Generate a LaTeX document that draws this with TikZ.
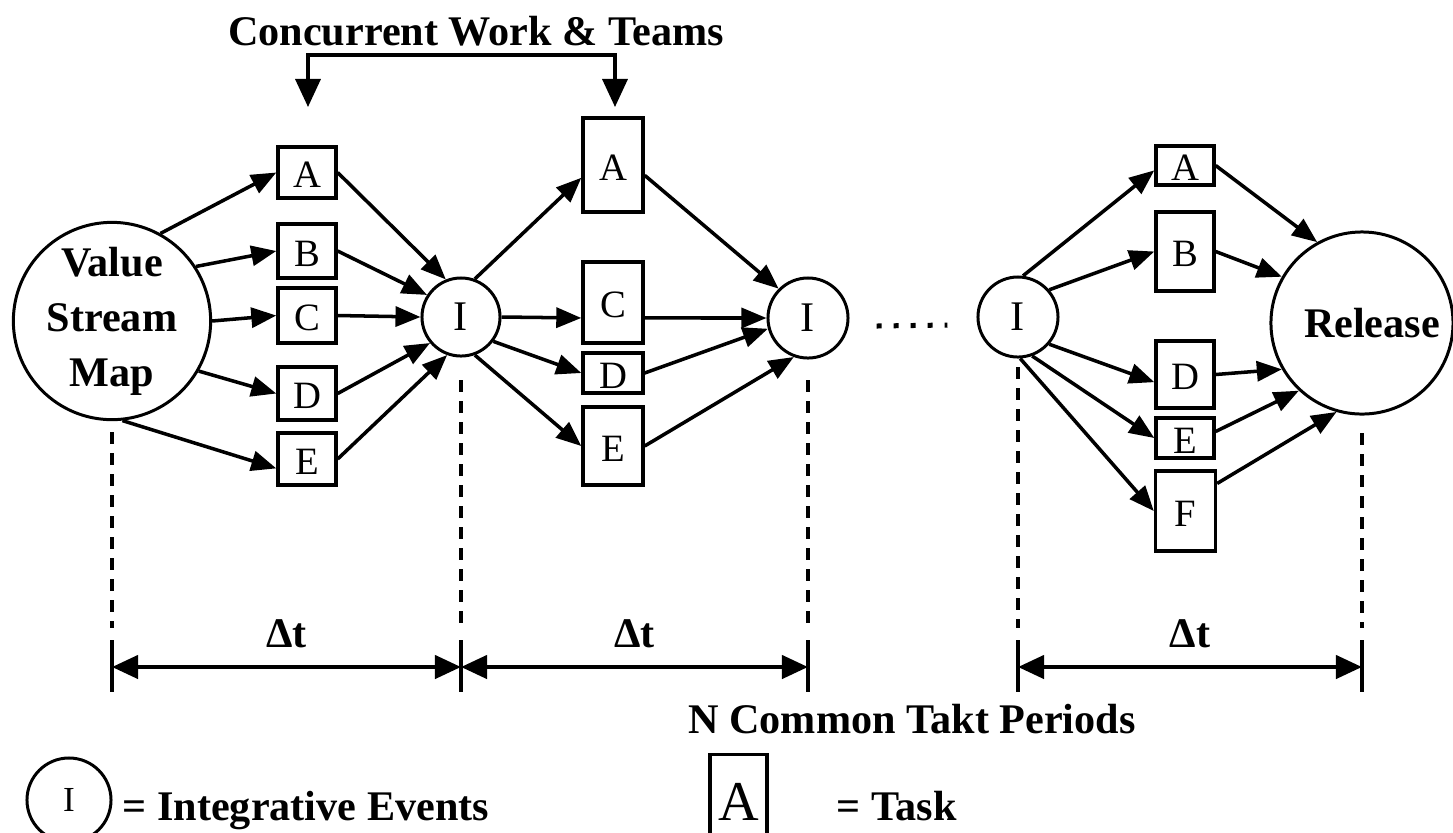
\documentclass[tikz,border=0pt]{standalone}
\usepackage{fontspec}
\setmainfont{Liberation Serif}
\usepackage{tikz}
\usetikzlibrary{arrows.meta,shapes}
\usetikzlibrary{positioning}

\tikzstyle{task}=[draw=black, rectangle, line width=0.95pt, inner sep=0pt,
                minimum width=0.58cm, text height=0.30cm, text depth=0pt,
                font=\fontsize{11}{13}\selectfont]
\tikzstyle{event}=[draw=black, circle, line width=0.85pt, inner sep=0pt,
                minimum size=0.78cm, font=\fontsize{12}{14}\selectfont]
\tikzstyle{blabel}=[inner sep=0pt, font=\bfseries\fontsize{12}{15.6}\selectfont]
\tikzstyle{flow}=[-{Triangle[length=0.25cm,width=0.2cm]}, line width=1pt]
\tikzstyle{bracket}=[-{Triangle[length=0.28cm,width=0.25cm]}, line width=1pt]
\tikzstyle{guide}=[line width=0.9pt, dash pattern=on 0.12cm off 0.09cm]
\tikzstyle{period}=[{Triangle[length=0.26cm,width=0.23cm]}-{Triangle[length=0.26cm,width=0.23cm]},
                line width=1.2pt]

\begin{document}
\begin{tikzpicture}[x=0.01cm, y=-0.01cm]
  \path[use as bounding box] (0,0) rectangle (1453,832);

  % title and bracket
  \node[blabel, anchor=base] (cwt) at (476,45) {Concurrent Work \& Teams};
  \coordinate (cw) at (461,55);
  \coordinate (ca1) at (308,107);
  \coordinate (ca2) at (615,107);
  \draw[bracket] (cw) -| (ca1);
  \draw[bracket] (cw) -| (ca2);

  % first period
  \node[draw, circle, line width=0.85pt, inner sep=0pt, minimum size=1.88cm,
        align=center, blabel] (vsm) at (112,321) {Value\\Stream\\Map};
  \node[task, minimum height=0.51cm] (a1) at (307,172.5) {A};
  \node[task, minimum height=0.54cm] (b1) at (307,251) {B};
  \node[task, minimum height=0.55cm] (c1) at (307,315.5) {C};
  \node[task, minimum height=0.53cm] (d1) at (307,393.5) {D};
  \node[task, minimum height=0.52cm] (e1) at (307,459) {E};
  \node[event] (i1) at (461,317) {I};

  % second period
  \node[task, minimum width=0.6cm, minimum height=0.94cm] (a2) at (613,165) {A};
  \node[task, minimum width=0.6cm, minimum height=0.81cm] (c2) at (613,302.5) {C};
  \node[task, minimum width=0.6cm, minimum height=0.40cm] (d2) at (613,373) {D};
  \node[task, minimum width=0.6cm, minimum height=0.78cm] (e2) at (613,446) {E};
  \node[event, minimum size=0.8cm] (i2) at (808,318) {I};

  % last period
  \node[event, minimum size=0.8cm] (i3) at (1018,317) {I};
  \node[task, minimum height=0.39cm] (a3) at (1185,165.5) {A};
  \node[task, minimum height=0.79cm] (b3) at (1185,251.5) {B};
  \node[task, minimum height=0.67cm] (d3) at (1185,374.5) {D};
  \node[task, minimum height=0.40cm] (e3) at (1185,438) {E};
  \node[task, minimum width=0.6cm, minimum height=0.80cm] (f3) at (1185.5,511) {F};
  \node[draw, circle, line width=0.85pt, inner sep=0pt, minimum size=1.82cm,
        blabel] (rel) at (1362,323) {\hspace{0.2cm}Release};

  \path[flow]
    (vsm.61) edge (a1.west)
    (vsm.33) edge (b1.west)
    (vsm.0) edge (c1.west)
    (vsm.-30) edge (d1.west)
    (vsm.-84) edge (e1.197)
    (a1.east) edge (i1.112)
    (b1.east) edge (i1.147)
    (c1.east) edge (i1.west)
    (d1.east) edge (i1.220)
    (e1.east) edge (i1.250);
  \path[flow]
    (i1.70) edge (a2.202)
    (i1.east) edge (c2.206)
    (i1.-37) edge (d2.west)
    (i1.-70) edge (e2.west)
    (a2.342) edge (i2.135)
    (c2.334) edge (i2.west)
    (d2.east) edge (i2.195)
    (e2.east) edge (i2.250);
  \path[flow]
    (i3.83) edge (a3.189)
    (i3.41) edge (b3.west)
    (i3.-41) edge (d3.194)
    (i3.-70) edge (e3.west)
    (i3.-87) edge (f3.west)
    (a3.east) edge (rel.119)
    (b3.east) edge (rel.150)
    (d3.east) edge (rel.210)
    (e3.12) edge (rel.227)
    (f3.41) edge (rel.254);

  \draw[line width=0.05cm, dash pattern=on 0.05cm off 0.12cm]
    ([xshift=0.27cm, yshift=-0.08cm]i2.east) -- ([xshift=-0.29cm, yshift=-0.08cm]i3.west);

  % takt periods
  \draw[guide] (112,432) -- (112,628);
  \draw[guide] (461,380) -- (461,628);
  \draw[guide] (808,380) -- (808,628);
  \draw[guide] (1018,367) -- (1018,628);
  \draw[guide] (1362,433) -- (1362,628);
  \coordinate (t0) at (112,667);
  \coordinate (t1) at (461,667);
  \coordinate (t2) at (808,667);
  \coordinate (t3) at (1018,667);
  \coordinate (t4) at (1362,667);
  \draw[line width=0.95pt] (t0) ++(0,-27) -- ++(0,52);
  \draw[line width=0.95pt] (t1) ++(0,-27) -- ++(0,52);
  \draw[line width=0.95pt] (t2) ++(0,-27) -- ++(0,52);
  \draw[line width=0.95pt] (t3) ++(0,-27) -- ++(0,52);
  \draw[line width=0.95pt] (t4) ++(0,-27) -- ++(0,52);
  \draw[period] (t0) -- node[blabel, above=0.17cm] (dt1) {Δt} (t1);
  \draw[period] (t1) -- node[blabel, above=0.17cm] (dt2) {Δt} (t2);
  \draw[period] (t3) -- node[blabel, above=0.17cm] (dt3) {Δt} (t4);
  \node[blabel, anchor=base] (nct) at (912,733) {N Common Takt Periods};

  % legend
  \node[event, minimum size=0.84cm, font=\fontsize{10}{12}\selectfont] (lgi) at (69,800) {I};
  \node[blabel, anchor=base west] (lgit) at (122,820) {= Integrative Events};
  \node[task, minimum width=0.57cm, minimum height=0.95cm, text height=0.37cm,
        font=\fontsize{16}{18}\selectfont] (lga) at (738.5,802) {A};
  \node[blabel, anchor=base west] (lgat) at (836,820) {= Task};
\end{tikzpicture}
\end{document}
